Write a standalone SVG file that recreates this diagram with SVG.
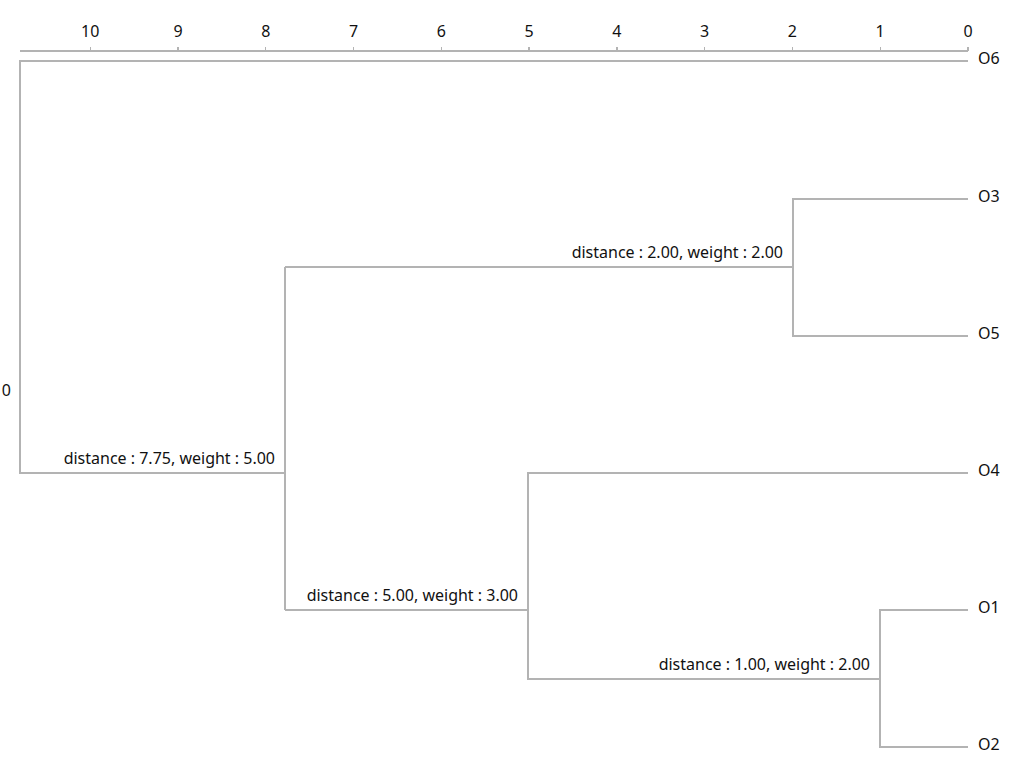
<svg xmlns="http://www.w3.org/2000/svg" width="1024" height="768" viewBox="0 0 1024 768">
<style>
.ln{stroke:#b3b3b3;stroke-width:1.3;fill:none;shape-rendering:crispEdges}
text{font-family:"Segoe UI","Noto Sans","Open Sans",sans-serif;font-size:16px;fill:#111}
.ax{text-anchor:middle}
.lb{text-anchor:end}
</style>
<rect width="1024" height="768" fill="#fff"/>
<g id="axis">
<path class="ln" d="M20 51H968M90.2 51V47M178 51V47M265.8 51V47M353.5 51V47M441.3 51V47M529.1 51V47M616.9 51V47M704.7 51V47M792.4 51V47M880.2 51V47M968 51V47"/>
<text class="ax" x="90.2" y="37">10</text>
<text class="ax" x="178" y="37">9</text>
<text class="ax" x="265.8" y="37">8</text>
<text class="ax" x="353.5" y="37">7</text>
<text class="ax" x="441.3" y="37">6</text>
<text class="ax" x="529.1" y="37">5</text>
<text class="ax" x="616.9" y="37">4</text>
<text class="ax" x="704.7" y="37">3</text>
<text class="ax" x="792.4" y="37">2</text>
<text class="ax" x="880.2" y="37">1</text>
<text class="ax" x="968" y="37">0</text>
</g>
<g id="connectors">
<path class="ln" d="M968 61H20V473H285"/>
<path class="ln" d="M285 267V610"/>
<path class="ln" d="M285 267H793"/>
<path class="ln" d="M968 199H793V336H968"/>
<path class="ln" d="M285 610H528"/>
<path class="ln" d="M968 473H528V679H880"/>
<path class="ln" d="M968 610H880V747H968"/>
</g>
<g id="root"><text class="lb" x="11" y="396">0</text></g>
<g id="n775"><text class="lb" x="275" y="464">distance : 7.75, weight : 5.00</text></g>
<g id="n200"><text class="lb" x="783" y="258">distance : 2.00, weight : 2.00</text></g>
<g id="n500"><text class="lb" x="518" y="601">distance : 5.00, weight : 3.00</text></g>
<g id="n100"><text class="lb" x="870" y="670">distance : 1.00, weight : 2.00</text></g>
<g id="O6"><text x="978" y="64">O6</text></g>
<g id="O3"><text x="978" y="202">O3</text></g>
<g id="O5"><text x="978" y="339">O5</text></g>
<g id="O4"><text x="978" y="476">O4</text></g>
<g id="O1"><text x="978" y="613">O1</text></g>
<g id="O2"><text x="978" y="750">O2</text></g>
</svg>
